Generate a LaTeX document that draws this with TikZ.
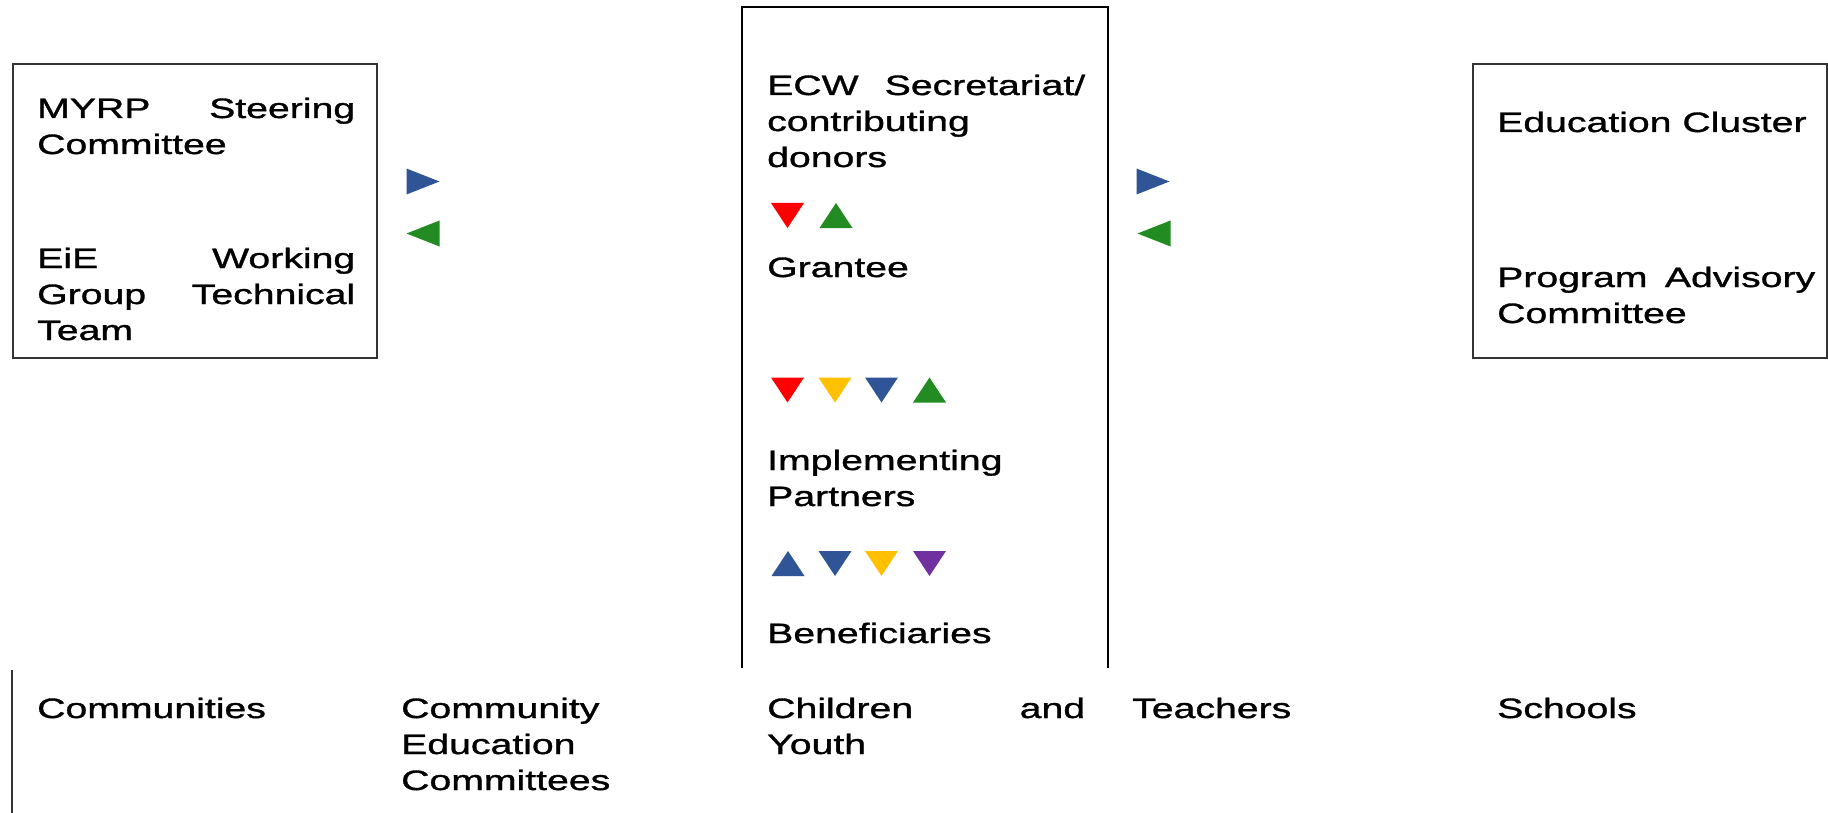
\documentclass[tikz,border=0pt]{standalone}
\usepackage{fontspec}
\setmainfont{Liberation Sans}[FakeStretch=1.4,FakeBold=1.2]
\definecolor{tred}{HTML}{FF0000}
\definecolor{tyellow}{HTML}{FFC000}
\definecolor{tblue}{HTML}{2F5597}
\definecolor{tgreen}{HTML}{228B22}
\definecolor{tpurple}{HTML}{7030A0}
\definecolor{frame}{HTML}{333333}
\begin{document}
\begin{tikzpicture}[x=1pt,y=-1pt,
  txt/.style={anchor=base west,inner sep=0pt,font=\fontsize{28}{36}\selectfont},
  boxline/.style={draw=frame,line width=1.4pt},
  tridown/.pic={\fill (-16.5,-12.5) -- (16.5,-12.5) -- (0,12.5) -- cycle;},
  triup/.pic={\fill (-16.5,12.5) -- (16.5,12.5) -- (0,-12.5) -- cycle;},
  triright/.pic={\fill (-16.5,-13) -- (16.5,0) -- (-16.5,13) -- cycle;},
  trileft/.pic={\fill (16.5,-13) -- (-16.5,0) -- (16.5,13) -- cycle;}]
\useasboundingbox (0,0) rectangle (1828,813);
\fill[white] (0,0) rectangle (1828,813);
\newcommand\just[1]{\makebox[318pt][s]{#1}}

% frames
\draw[boxline] (13,64) rectangle (377,358);
\draw[boxline] (1473,64) rectangle (1827,358);
\draw[boxline,draw=black,line width=1.8pt] (742,668) -- (742,7) -- (1108,7) -- (1108,668);
\draw[boxline] (12,670) -- (12,813);

% left box
\node[txt] (myrp) at (37,118) {\just{MYRP Steering}};
\node[txt] (myrp2) at (37,154) {Committee};
\node[txt] (eie) at (37,268) {\just{EiE Working}};
\node[txt] (eie2) at (37,304) {\just{Group Technical}};
\node[txt] (eie3) at (37,340) {Team};

% centre column
\node[txt] (ecw) at (767,95) {\just{ECW Secretariat/}};
\node[txt] (ecw2) at (767,131) {contributing};
\node[txt] (ecw3) at (767,167) {donors};
\node[txt] (grantee) at (767,277) {Grantee};
\node[txt] (impl) at (767,470) {Implementing};
\node[txt] (impl2) at (767,506) {Partners};
\node[txt] (benef) at (767,643) {Beneficiaries};

% right box
\node[txt] (cluster) at (1497,132) {Education Cluster};
\node[txt] (pac) at (1497,287) {\just{Program Advisory}};
\node[txt] (pac2) at (1497,323) {Committee};

% bottom row
\node[txt] (comm) at (37,718) {Communities};
\node[txt] (cec) at (401,718) {Community};
\node[txt] (cec2) at (401,754) {Education};
\node[txt] (cec3) at (401,790) {Committees};
\node[txt] (child) at (767,718) {\just{Children and}};
\node[txt] (child2) at (767,754) {Youth};
\node[txt] (teach) at (1132,718) {Teachers};
\node[txt] (school) at (1497,718) {Schools};

% side arrows
\pic[tblue] at (423,181.5) {triright};
\pic[tgreen] at (423,233.5) {trileft};
\pic[tblue] at (1153,181.5) {triright};
\pic[tgreen] at (1154,233.5) {trileft};

% flow markers
\pic[tred] at (787.5,215.5) {tridown};
\pic[tgreen] at (836,215.5) {triup};

\pic[tred] at (787.5,390) {tridown};
\pic[tyellow] at (835,390) {tridown};
\pic[tblue] at (881.5,390) {tridown};
\pic[tgreen] at (929.5,390) {triup};

\pic[tblue] at (788,563.5) {triup};
\pic[tblue] at (835,563.5) {tridown};
\pic[tyellow] at (881.5,563.5) {tridown};
\pic[tpurple] at (929.5,563.5) {tridown};
\end{tikzpicture}
\end{document}
